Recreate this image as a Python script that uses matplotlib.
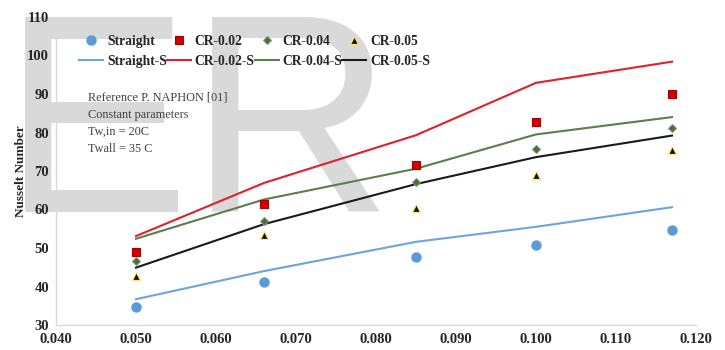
import matplotlib
matplotlib.use("Agg")
import matplotlib.pyplot as plt
from matplotlib.lines import Line2D

# ---- data ----
x_vals = [0.050, 0.066, 0.085, 0.100, 0.117]

straight_pts = [34.8, 41.2, 47.7, 50.8, 54.8]
cr002_pts = [49.0, 61.3, 71.6, 82.7, 90.0]
cr004_pts = [46.7, 57.0, 67.1, 75.7, 81.2]
cr005_pts = [42.6, 53.5, 60.4, 69.0, 75.5]

straight_s = [36.7, 44.0, 51.6, 55.5, 60.6]
cr002_s = [53.1, 66.9, 79.3, 92.9, 98.4]
cr004_s = [52.4, 62.6, 70.6, 79.5, 84.0]
cr005_s = [44.9, 56.2, 66.6, 73.6, 79.2]

x_ticks = [0.040, 0.050, 0.060, 0.070, 0.080, 0.090, 0.100, 0.110, 0.120]
y_ticks = [30, 40, 50, 60, 70, 80, 90, 100, 110]

note_lines = ["Reference P. NAPHON [01]", "Constant parameters",
              "Tw,in = 20C", "Twall = 35 C"]

# ---- styles ----
c_blue_m = "#5b9bd5"
c_blue_l = "#6fa3dd"
c_red_m = "#d40000"
c_red_l = "#e0202a"
c_green_m = "#4b6b3c"
c_green_l = "#5e7d4c"
c_black = "#1a1a1a"

serif = ["Liberation Serif", "DejaVu Serif"]

fig = plt.figure(figsize=(7.25, 3.5), dpi=100)
fig.patch.set_facecolor("white")

# watermark
fig.text(2 / 725, (350 - 212) / 350, "ER", fontsize=203,
         family=["Liberation Sans", "DejaVu Sans"], color="#d9d9d9",
         ha="left", va="baseline", zorder=-5)

ax = fig.add_axes([56 / 725, 25 / 350, 640 / 725, 308 / 350])
ax.set_facecolor("none")
ax.set_zorder(1)

ax.plot(x_vals, straight_s, color=c_blue_l, lw=1.5)
ax.plot(x_vals, cr002_s, color=c_red_l, lw=1.5)
ax.plot(x_vals, cr004_s, color=c_green_l, lw=1.5)
ax.plot(x_vals, cr005_s, color=c_black, lw=1.5)

ax.plot(x_vals, straight_pts, ls="none", marker="o", ms=6.5,
        mfc=c_blue_m, mec=c_blue_m)
ax.plot(x_vals, cr002_pts, ls="none", marker="s", ms=6,
        mfc=c_red_m, mec="#a00000", mew=0.8)
ax.plot(x_vals, cr004_pts, ls="none", marker="D", ms=4.2,
        mfc=c_green_m, mec="#7d9a6c", mew=0.8)
ax.plot(x_vals, cr005_pts, ls="none", marker="^", ms=6,
        mfc="#111111", mec="#ffe27a", mew=0.9)

ax.set_xlim(0.040, 0.120)
ax.set_ylim(30, 110)
ax.set_xticks(x_ticks)
ax.set_xticklabels([f"{v:.3f}" for v in x_ticks])
ax.set_yticks(y_ticks)
ax.set_yticklabels([str(v) for v in y_ticks])
ax.tick_params(axis="both", length=0, labelsize=10.5)
ax.tick_params(axis="x", pad=6)
ax.tick_params(axis="y", pad=5)
for lab in ax.get_xticklabels() + ax.get_yticklabels():
    lab.set_family(serif)
    lab.set_fontweight("bold")
    lab.set_color("#262626")

for s in ["top", "right"]:
    ax.spines[s].set_visible(False)
ax.spines["bottom"].set_color("#d9d9d9")
ax.spines["left"].set_color("#d9d9d9")
ax.spines["bottom"].set_linewidth(1.0)
ax.spines["left"].set_linewidth(1.0)

ax.set_ylabel("Nusselt Number", family=serif, fontweight="bold",
              fontsize=9.5, color="#262626")
ax.yaxis.set_label_coords(-0.046, 0.5)

# legend
handles = [
    Line2D([], [], ls="none", marker="o", ms=6.5, mfc=c_blue_m, mec=c_blue_m),
    Line2D([], [], color=c_blue_l, lw=1.5),
    Line2D([], [], ls="none", marker="s", ms=6, mfc=c_red_m, mec="#a00000", mew=0.8),
    Line2D([], [], color=c_red_l, lw=1.5),
    Line2D([], [], ls="none", marker="D", ms=4.2, mfc=c_green_m, mec="#7d9a6c", mew=0.8),
    Line2D([], [], color=c_green_l, lw=1.5),
    Line2D([], [], ls="none", marker="^", ms=6, mfc="#111111", mec="#ffe27a", mew=0.9),
    Line2D([], [], color=c_black, lw=1.5),
]
labels = ["Straight", "Straight-S", "CR-0.02", "CR-0.02-S",
          "CR-0.04", "CR-0.04-S", "CR-0.05", "CR-0.05-S"]
leg = fig.legend(handles, labels, ncol=4, loc="upper left",
                 bbox_to_anchor=(79 / 725, 1 - 35 / 350),
                 frameon=False, borderpad=0, borderaxespad=0,
                 handlelength=1.75, handletextpad=0.3, columnspacing=0.0,
                 labelspacing=0.5,
                 prop={"family": serif, "weight": "bold", "size": 9.8})
for t in leg.get_texts():
    t.set_color("#262626")

fig.text(88 / 725, 1 - 92 / 350, "\n".join(note_lines), family=serif,
         fontsize=8.8, color="#404040", ha="left", va="top", linespacing=1.55)

fig.savefig("out.png", dpi=100)
